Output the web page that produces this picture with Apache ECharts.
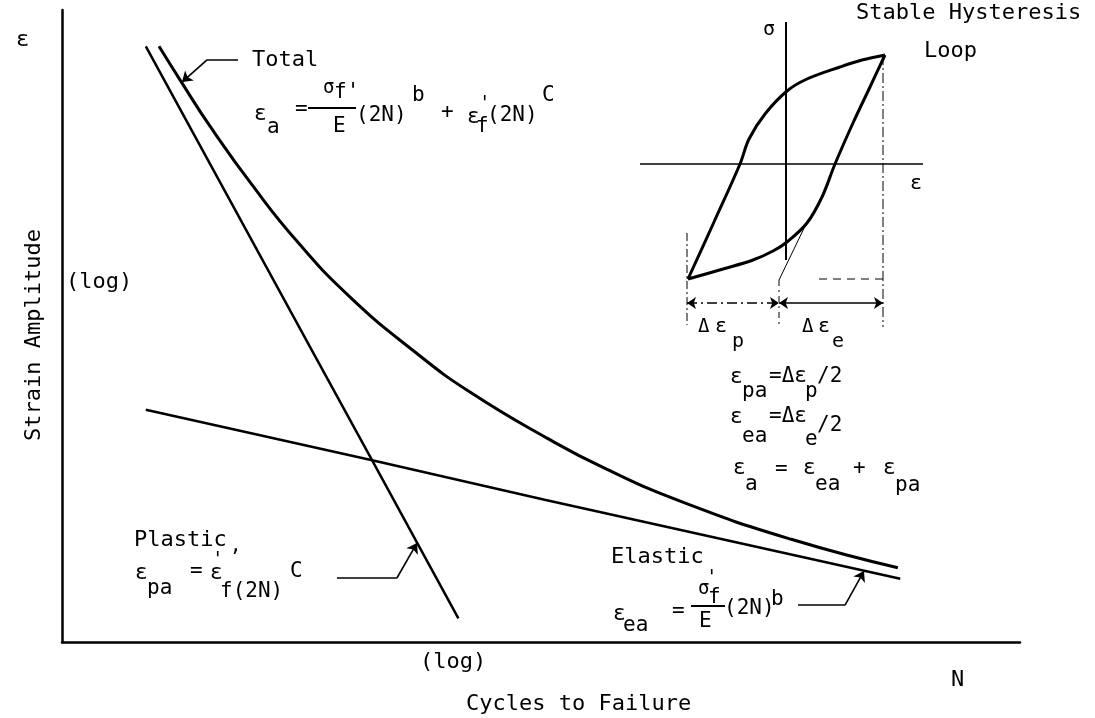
<!DOCTYPE html>
<html>
<head>
<meta charset="utf-8">
<title>Strain-life curve</title>
<style>
  html, body { margin: 0; padding: 0; background: #fff; }
  #chart { width: 1095px; height: 718px; }
</style>
</head>
<body>
<div id="chart"></div>
<script src="https://cdn.jsdelivr.net/npm/echarts@6/dist/echarts.min.js"></script>
<script>
// main plot: x = log(2N) in decades, y = log(strain amplitude) in decades
const plastic = [[0.70, -0.23], [2.12, -2.20], [2.59, -2.85], [3.31, -3.85]]
const elastic = [[0.70, -2.53], [2.59, -2.85], [4.03, -3.10], [7.00, -3.60]]
const total = [
  [0.81, -0.23], [1.00, -0.46], [1.24, -0.74], [1.60, -1.12], [1.97, -1.47],
  [2.41, -1.82], [2.94, -2.16], [3.41, -2.42], [4.05, -2.71], [4.53, -2.90],
  [5.20, -3.12], [6.09, -3.35], [6.98, -3.53]
]
// leader lines from the labels to the curves
const totalLeader = [[1.47, -0.316], [1.211, -0.316]]
const totalArrow = [[1.211, -0.316], [1.002, -0.456]]
const plasticLeader = [[2.296, -3.595], [2.797, -3.595]]
const plasticArrow = [[2.797, -3.595], [2.965, -3.373]]
const elasticLeader = [[6.146, -3.766], [6.539, -3.766]]
const elasticArrow = [[6.539, -3.766], [6.697, -3.551]]

// inset: stable hysteresis loop, x = strain, y = stress
const loopUpper = [
  [-0.98, -1.15], [-0.72, -0.58], [-0.46, 0], [-0.37, 0.25], [-0.21, 0.50],
  [0.01, 0.73], [0.21, 0.85], [0.54, 0.97], [0.76, 1.04], [0.99, 1.09]
]
const loopLower = [
  [-0.98, -1.15], [-0.63, -1.05], [-0.33, -0.96], [-0.13, -0.87], [0.01, -0.78],
  [0.21, -0.59], [0.36, -0.33], [0.49, 0], [0.67, 0.41], [0.84, 0.77], [0.99, 1.09]
]
const sigmaAxis = [[0, 1.42], [0, -0.96]]
const epsAxis = [[-1.46, 0], [1.37, 0]]
const unload = [[-0.07, -1.16], [0.22, -0.56]]
const guideLeft = [[-0.99, -0.69], [-0.99, -1.61]]
const guideMid = [[-0.07, -1.16], [-0.07, -1.64]]
const guideRight = [[0.97, 1.09], [0.97, -1.63]]
const baseDash = [[0.33, -1.15], [0.99, -1.15]]
const dimPlastic = [[-0.99, -1.39], [-0.07, -1.39]]
const dimElastic = [[-0.07, -1.39], [0.97, -1.39]]

const INK = '#000'
const FONT = '"DejaVu Sans Mono", monospace'

function txt (x, y, s, size, extra) {
  const f = (size || 21) + 'px ' + FONT
  return Object.assign({
    type: 'text',
    x: x,
    y: y,
    style: { text: s, font: f, fill: INK, align: 'left', verticalAlign: 'middle', textAlign: 'left', textVerticalAlign: 'middle' }
  }, extra || {})
}
function bar (x1, x2, y) {
  return { type: 'line', shape: { x1: x1, y1: y, x2: x2, y2: y }, style: { stroke: INK, lineWidth: 2 } }
}
function curve (data, width, axis, extra) {
  return Object.assign({
    type: 'line',
    data: data,
    xAxisIndex: axis,
    yAxisIndex: axis,
    symbol: 'none',
    lineStyle: { color: INK, width: width },
    silent: true
  }, extra || {})
}
function arrow (coords, axis, both, style) {
  return {
    type: 'lines',
    coordinateSystem: 'cartesian2d',
    xAxisIndex: axis,
    yAxisIndex: axis,
    symbol: both ? ['arrow', 'arrow'] : ['none', 'arrow'],
    symbolSize: both ? [9, 9] : 10,
    lineStyle: Object.assign({ color: INK, width: 1.6, opacity: 1 }, style || {}),
    data: [{ coords: coords }],
    silent: true
  }
}
const hiddenAxis = (min, max, idx) => ({
  type: 'value', min: min, max: max, gridIndex: idx,
  axisLine: { show: false }, axisTick: { show: false }, axisLabel: { show: false }, splitLine: { show: false }
})

const labels = [
  // axes
  txt(16, 40, 'ε', 22),
  txt(34, 335, 'Strain Amplitude', 22, { rotation: Math.PI / 2, style: { text: 'Strain Amplitude', font: '22px ' + FONT, fill: INK, align: 'center', verticalAlign: 'middle', textAlign: 'center', textVerticalAlign: 'middle' } }),
  txt(66, 282, '(log)', 22),
  txt(420, 662, '(log)', 22),
  txt(466, 704, 'Cycles to Failure', 22),
  txt(951, 680, 'N', 22),
  // total
  txt(252, 60, 'Total', 22),
  txt(254, 115, 'ε'), txt(267, 128, 'a'), txt(295, 110, '='),
  txt(323, 88, 'σ', 19), txt(334, 93, "f'"), bar(308, 356, 108), txt(333, 127, 'E'),
  txt(356, 116, '(2N)'), txt(412, 96, 'b'), txt(441, 113, '+'),
  txt(467, 118, 'ε'), txt(479, 104, "'", 19), txt(476, 127, 'f'), txt(487, 116, '(2N)'), txt(542, 96, 'C'),
  // plastic
  txt(134, 540, 'Plastic', 22), txt(230, 546, ',', 19),
  txt(135, 574, 'ε'), txt(147, 589, 'pa'), txt(190, 572, '='),
  txt(210, 574, 'ε'), txt(212, 560, "'", 19), txt(220, 592, 'f(2N)'), txt(290, 572, 'C'),
  // elastic
  txt(611, 557, 'Elastic', 22),
  txt(613, 615, 'ε'), txt(623, 626, 'ea'), txt(672, 612, '='),
  txt(698, 589, 'σ', 19), txt(706, 578, "'", 19), txt(708, 598, 'f'), bar(691, 725, 606), txt(699, 622, 'E'),
  txt(724, 609, '(2N)'), txt(771, 600, 'b'),
  // relations
  txt(730, 378, 'ε'), txt(742, 392, 'pa'), txt(769, 377, '=Δε'), txt(805, 392, 'p'), txt(817, 377, '/2'),
  txt(730, 418, 'ε'), txt(742, 437, 'ea'), txt(769, 417, '=Δε'), txt(805, 440, 'e'), txt(817, 426, '/2'),
  txt(733, 469, 'ε'), txt(745, 485, 'a'), txt(775, 470, '='), txt(803, 469, 'ε'), txt(815, 485, 'ea'),
  txt(853, 469, '+'), txt(883, 469, 'ε'), txt(895, 486, 'pa'),
  // inset
  txt(763, 30, 'σ', 20), txt(910, 184, 'ε', 20),
  txt(698, 327, 'Δ', 19), txt(715, 327, 'ε', 20), txt(732, 342, 'p', 20),
  txt(802, 327, 'Δ', 19), txt(818, 327, 'ε', 20), txt(832, 342, 'e', 20),
  txt(856, 13, 'Stable Hysteresis', 22),
  txt(924, 51, 'Loop', 22)
]

const chart = echarts.init(document.getElementById('chart'))
chart.setOption({
  backgroundColor: '#fff',
  animation: false,
  grid: [
    { left: 62, top: 10, width: 958, height: 632 },
    { left: 640, top: 20, width: 300, height: 320 }
  ],
  xAxis: [
    {
      type: 'value', min: 0, max: 8, gridIndex: 0,
      axisLine: { show: true, onZero: false, lineStyle: { color: INK, width: 2.5 } },
      axisTick: { show: false }, axisLabel: { show: false }, splitLine: { show: false }
    },
    hiddenAxis(-1.46, 1.54, 1)
  ],
  yAxis: [
    {
      type: 'value', min: -4, max: 0, gridIndex: 0,
      axisLine: { show: true, onZero: false, lineStyle: { color: INK, width: 2.5 } },
      axisTick: { show: false }, axisLabel: { show: false }, splitLine: { show: false }
    },
    hiddenAxis(-1.76, 1.44, 1)
  ],
  series: [
    curve(plastic, 2.5, 0),
    curve(elastic, 2.5, 0),
    curve(total, 3, 0, { smooth: 0.5 }),
    curve(totalLeader, 1.6, 0),
    arrow(totalArrow, 0),
    curve(plasticLeader, 1.6, 0),
    arrow(plasticArrow, 0),
    curve(elasticLeader, 1.6, 0),
    arrow(elasticArrow, 0),
    // inset
    curve(sigmaAxis, 2, 1),
    curve(epsAxis, 1.6, 1),
    curve(loopUpper, 3, 1, { smooth: 0.35 }),
    curve(loopLower, 3, 1, { smooth: 0.35 }),
    curve(unload, 1, 1),
    curve(guideLeft, 1, 1, { lineStyle: { color: INK, width: 1, type: [8, 3, 2, 3] } }),
    curve(guideMid, 1, 1, { lineStyle: { color: INK, width: 1, type: [6, 4, 2, 4] } }),
    curve(guideRight, 1, 1, { lineStyle: { color: INK, width: 1, type: [10, 3, 2, 3] } }),
    curve(baseDash, 1, 1, { lineStyle: { color: INK, width: 1, type: [8, 6] } }),
    arrow(dimPlastic, 1, true, { type: [10, 4, 2, 4] }),
    arrow(dimElastic, 1, true)
  ],
  graphic: { elements: labels }
})
</script>
</body>
</html>
